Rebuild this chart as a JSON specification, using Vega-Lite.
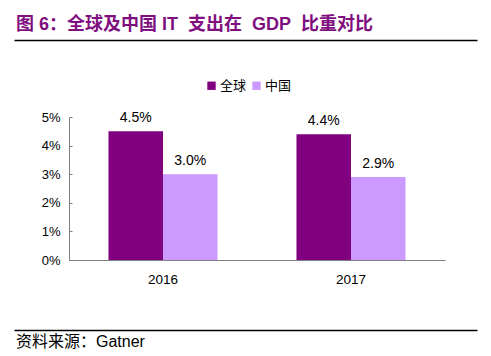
{
  "$schema": "https://vega.github.io/schema/vega-lite/v6.json",
  "padding": {"left": 14, "top": 16, "right": 0, "bottom": 0},
  "background": "white",
  "title": {
    "text": "图 6：全球及中国 IT\u00a0 支出在\u00a0 GDP\u00a0 比重对比",
    "anchor": "start",
    "font": "Liberation Sans, Noto Sans CJK SC",
    "fontSize": 18,
    "fontWeight": "bold",
    "color": "#7F0F7F",
    "offset": 5,
    "dx": 2
  },
  "spacing": 39,
  "resolve": {"legend": {"color": "independent"}},
  "config": {
    "view": {"stroke": null},
    "font": "Liberation Sans, Noto Sans CJK SC"
  },
  "vconcat": [
    {
      "width": 463,
      "height": 1,
      "data": {"values": [{"v": 0}]},
      "mark": {"type": "tick", "opacity": 0},
      "encoding": {
        "x": {
          "field": "v",
          "type": "quantitative",
          "scale": {"domain": [0, 1]},
          "axis": {"orient": "bottom", "position": -55, "labels": false, "ticks": false, "grid": false, "title": null, "domainColor": "#000000", "domainWidth": 1.5}
        }
      }
    },
    {
      "width": 376,
      "height": 143,
      "data": {
        "values": [
          {"year": "2016", "region": "全球", "value": 0.045},
          {"year": "2016", "region": "中国", "value": 0.030},
          {"year": "2017", "region": "全球", "value": 0.044},
          {"year": "2017", "region": "中国", "value": 0.029}
        ]
      },
      "encoding": {
        "x": {
          "field": "year",
          "type": "nominal",
          "scale": {"paddingInner": 0.42, "paddingOuter": 0.21},
          "axis": {"title": null, "labelAngle": 0, "labelFontSize": 13.5, "labelColor": "#000000", "labelPadding": 12, "domainColor": "#808080", "tickColor": "#808080", "tickSize": 0, "minExtent": 31}
        },
        "xOffset": {"field": "region", "type": "nominal", "sort": ["全球", "中国"]},
        "y": {
          "field": "value",
          "type": "quantitative",
          "scale": {"domain": [0, 0.05]},
          "axis": {"title": null, "format": ".0%", "tickCount": 5, "grid": false, "labelFontSize": 13, "labelColor": "#000000", "labelPadding": 12, "domainColor": "#808080", "tickColor": "#808080", "tickSize": -3, "minExtent": 55}
        }
      },
      "layer": [
        {
          "mark": {"type": "bar"},
          "encoding": {
            "color": {
              "field": "region",
              "type": "nominal",
              "sort": ["全球", "中国"],
              "scale": {"domain": ["全球", "中国"], "range": ["#800080", "#CC99FF"]},
              "legend": {
                "title": null,
                "orient": "none",
                "direction": "horizontal",
                "legendX": 136,
                "legendY": -38,
                "symbolType": "square",
                "symbolSize": 70,
                "symbolStrokeWidth": 0,
                "labelFontSize": 13,
                "labelColor": "#000000",
                "labelOffset": 2,
                "columnPadding": 3
              }
            }
          }
        },
        {
          "mark": {"type": "text", "baseline": "bottom", "dy": -6, "fontSize": 14, "color": "#000000"},
          "encoding": {
            "text": {"field": "value", "type": "quantitative", "format": ".1%"}
          }
        }
      ]
    },
    {
      "width": 463,
      "height": 23,
      "data": {"values": [{"v": 0, "label": "资料来源：Gatner"}]},
      "mark": {"type": "text", "align": "left", "baseline": "middle", "dx": -53, "fontSize": 16, "color": "#000000"},
      "encoding": {
        "x": {
          "field": "v",
          "type": "quantitative",
          "scale": {"domain": [0, 1]},
          "axis": {"orient": "top", "position": -55, "labels": false, "ticks": false, "grid": false, "title": null, "domainColor": "#000000", "domainWidth": 1.5}
        },
        "text": {"field": "label"}
      }
    }
  ]
}
